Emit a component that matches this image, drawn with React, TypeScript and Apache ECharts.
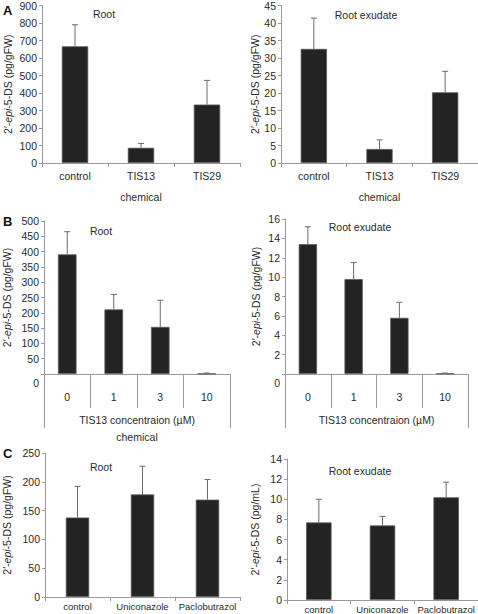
import React, { useEffect, useRef } from "react";
import * as echarts from "echarts";

// ---- data ----
const catsA = ["control", "TIS13", "TIS29"];
const rootA = [667, 87, 334];
const rootAErr = [123, 25, 138];
const exudA = [32.6, 4.0, 20.2];
const exudAErr = [8.8, 2.6, 6.0];

const catsB = ["0", "1", "3", "10"];
const rootB = [391, 211, 154, 1];
const rootBErr = [74, 49, 87, 2];
const exudB = [13.4, 9.8, 5.8, 0.05];
const exudBErr = [1.8, 1.7, 1.6, 0.05];

const catsC = ["control", "Uniconazole", "Paclobutrazol"];
const rootC = [138, 178, 169];
const rootCErr = [54, 49, 35];
const exudC = [7.7, 7.4, 10.2];
const exudCErr = [2.3, 0.9, 1.5];

// y axis ranges [max, interval]
const yRanges = [
  [900, 100],
  [45, 5],
  [500, 50],
  [16, 2],
  [250, 50],
  [14, 2],
];

const FONT = "'Liberation Sans', Arial, Helvetica, sans-serif";
const TXT = "#2a2a2a";
const AX = "#9a9a9a";

const yNameGFW = "{a|2′-}{i|epi}{a|-5-DS (pg/gFW)}";
const yNameML = "{a|2′-}{i|epi}{a|-5-DS (pg/mL)}";

export default function App() {
  const ref = useRef<HTMLDivElement>(null);

  useEffect(() => {
    if (!ref.current) return;
    const chart = echarts.init(ref.current, undefined, { renderer: "svg" });

    const grids = [
      { left: 42, top: 3, width: 198, height: 160 },
      { left: 281, top: 3, width: 197, height: 160 },
      { left: 42, top: 221, width: 188, height: 153 },
      { left: 285, top: 219, width: 183, height: 155 },
      { left: 42, top: 453, width: 198, height: 144 },
      { left: 287, top: 459, width: 191, height: 141 },
    ];
    const cats = [catsA, catsA, catsB, catsB, catsC, catsC];
    const vals = [rootA, exudA, rootB, exudB, rootC, exudC];
    const errs = [rootAErr, exudAErr, rootBErr, exudBErr, rootCErr, exudCErr];
    const yNames = [yNameGFW, yNameGFW, yNameGFW, yNameGFW, yNameGFW, yNameML];
    const yNameGaps = [29, 21, 32, 24, 33, 27];

    const nameRich = {
      a: { fontSize: 10.5, color: TXT, fontFamily: FONT },
      i: { fontSize: 10.5, color: TXT, fontFamily: FONT, fontStyle: "italic" },
    };

    const xAxes: any[] = cats.map((c, i) => {
      const isB = i === 2 || i === 3;
      const isC = i === 4 || i === 5;
      const isA = i < 2;
      return {
        type: "category",
        gridIndex: i,
        position: "bottom",
        offset: 0,
        data: c,
        axisLine: { show: true, lineStyle: { color: AX, width: 1 } },
        axisTick: { show: true, length: isB ? 34 : 4, lineStyle: { color: AX } },
        axisLabel: {
          color: TXT,
          fontFamily: FONT,
          fontSize: isC ? 9.5 : 10.5,
          margin: isB ? 17 : isC ? 4 : 7,
          interval: 0,
        },
        name: isA ? "chemical" : "",
        nameLocation: "middle",
        nameGap: 28,
        nameTextStyle: { color: TXT, fontFamily: FONT, fontSize: 10.5 },
      };
    });
    // table frame + axis name for panel B
    [2, 3].forEach((g) => {
      xAxes.push({
        type: "category",
        gridIndex: g,
        position: "bottom",
        offset: 0,
        data: [""],
        axisLine: { show: false },
        axisTick: { show: true, length: 54, lineStyle: { color: AX } },
        axisLabel: { show: false },
        name: "TIS13 concentraion (µM)",
        nameLocation: "middle",
        nameGap: 40,
        nameTextStyle: { color: TXT, fontFamily: FONT, fontSize: 10.5 },
      });
    });
    xAxes.push({
      type: "category",
      gridIndex: 2,
      position: "bottom",
      offset: 0,
      data: [""],
      axisLine: { show: false },
      axisTick: { show: false },
      axisLabel: { show: false },
      name: "chemical",
      nameLocation: "middle",
      nameGap: 57,
      nameTextStyle: { color: TXT, fontFamily: FONT, fontSize: 10.5 },
    });

    const yAxes = yRanges.map((r, i) => {
      const isB = i === 2 || i === 3;
      return {
        type: "value",
        gridIndex: i,
        position: "left",
        offset: 0,
        min: 0,
        max: r[0],
        interval: r[1],
        axisLine: { show: true, lineStyle: { color: AX, width: 1 } },
        axisTick: { show: true, length: 3, lineStyle: { color: AX } },
        splitLine: { show: false },
        axisLabel: {
          color: TXT,
          fontFamily: FONT,
          fontSize: 10.5,
          margin: 5,
          formatter: isB
            ? (v: number) => (v === 0 ? "{z|0}" : String(v))
            : (v: number) => String(v),
          rich: {
            z: { padding: [17, 0, 0, 0], color: TXT, fontFamily: FONT, fontSize: 10.5 },
          },
        },
        name: yNames[i],
        nameLocation: "middle",
        nameRotate: 90,
        nameGap: yNameGaps[i],
        nameTextStyle: { rich: nameRich, color: TXT, fontSize: 10.5, fontFamily: FONT },
      };
    });

    const series: any[] = [];
    vals.forEach((v, i) => {
      series.push({
        type: "bar",
        xAxisIndex: i,
        yAxisIndex: i,
        data: v,
        barWidth: i === 4 ? "36%" : "40%",
        itemStyle: { color: "#232323", borderColor: "#5a5a5a", borderWidth: 0.8 },
        z: 2,
      });
      series.push({
        type: "custom",
        xAxisIndex: i,
        yAxisIndex: i,
        z: 3,
        data: v.map((m, k) => [k, m, m + errs[i][k]]),
        encode: { x: 0, y: [1, 2] },
        renderItem: (params: any, api: any) => {
          const base = api.coord([api.value(0), api.value(1)]);
          const top = api.coord([api.value(0), api.value(2)]);
          const st = { stroke: "#6a6a6a", lineWidth: 1 };
          return {
            type: "group",
            children: [
              { type: "line", shape: { x1: base[0], y1: base[1], x2: base[0], y2: top[1] }, style: st },
              { type: "line", shape: { x1: base[0] - 3, y1: top[1], x2: base[0] + 3, y2: top[1] }, style: st },
            ],
          };
        },
      });
    });

    const titleStyle = { fill: TXT, font: `10.5px ${FONT}`, textAlign: "center", textVerticalAlign: "middle" };
    const titles = [
      { text: "Root", x: 104, y: 14 },
      { text: "Root exudate", x: 366, y: 15 },
      { text: "Root", x: 101, y: 231 },
      { text: "Root exudate", x: 360, y: 227 },
      { text: "Root", x: 101, y: 467 },
      { text: "Root exudate", x: 360, y: 471 },
    ];
    const letters = [
      { text: "A", x: 3, y: 10 },
      { text: "B", x: 3, y: 221 },
      { text: "C", x: 3, y: 453 },
    ];
    const graphic: any[] = [
      ...titles.map((t) => ({ type: "text", x: t.x, y: t.y, style: { ...titleStyle, text: t.text } })),
      ...letters.map((t) => ({
        type: "text",
        x: t.x,
        y: t.y,
        style: { text: t.text, fill: "#111", font: `bold 13px ${FONT}`, textAlign: "left", textVerticalAlign: "middle" },
      })),
    ];

    chart.setOption({
      animation: false,
      backgroundColor: "#ffffff",
      textStyle: { fontFamily: FONT },
      grid: grids,
      xAxis: xAxes,
      yAxis: yAxes,
      series,
      graphic,
    });

    return () => chart.dispose();
  }, []);

  return (
    <div
      ref={ref}
      style={{ position: "absolute", left: 0, top: 0, width: 478, height: 614, background: "#fff" }}
    />
  );
}
